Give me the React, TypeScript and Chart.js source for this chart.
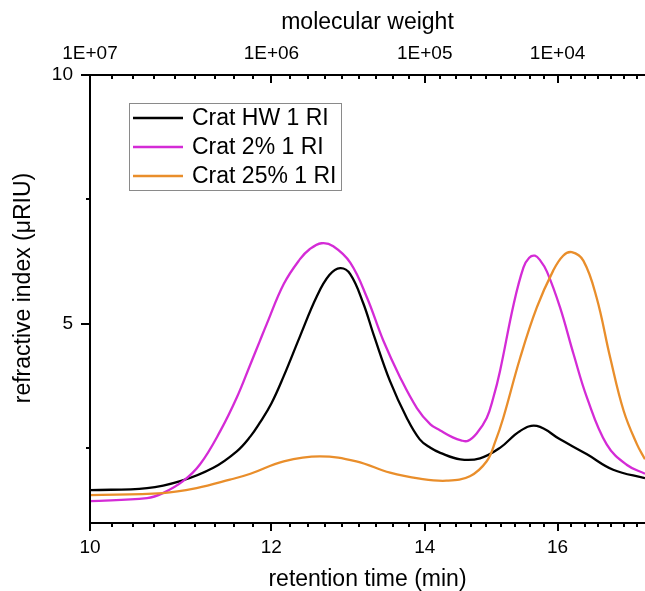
import React, { useEffect, useRef } from "react";
import { Chart, registerables } from "chart.js";

Chart.register(...registerables);

// ---------- data ----------
const seriesLabels = ["Crat HW 1 RI", "Crat 2% 1 RI", "Crat 25% 1 RI"];
const seriesColors = ["#000000", "#d42bd6", "#e98e2b"];

const hwTimes = [10.0, 10.59, 10.95, 11.32, 11.59, 11.75, 11.86, 12.0, 12.15, 12.35, 12.56, 12.72, 12.86, 12.99, 13.16, 13.3, 13.52, 13.75, 13.93, 14.08, 14.22, 14.51, 14.8, 15.1, 15.41, 15.67, 16.04, 16.48, 16.92, 17.47];
const hwValues = [1.66, 1.7, 1.84, 2.11, 2.44, 2.74, 3.01, 3.4, 3.95, 4.75, 5.55, 5.98, 6.12, 6.0, 5.42, 4.78, 3.85, 3.11, 2.68, 2.51, 2.41, 2.28, 2.3, 2.51, 2.85, 2.95, 2.68, 2.38, 2.07, 1.9];

const pct2Times = [10.0, 10.59, 10.76, 10.98, 11.17, 11.4, 11.59, 11.75, 11.86, 11.94, 12.15, 12.35, 12.47, 12.62, 12.77, 12.99, 13.21, 13.43, 13.66, 13.89, 14.08, 14.22, 14.4, 14.52, 14.62, 14.75, 14.9, 15.0, 15.1, 15.31, 15.46, 15.55, 15.64, 15.72, 15.83, 16.04, 16.26, 16.48, 16.81, 17.15, 17.47];
const pct2Values = [1.44, 1.5, 1.6, 1.84, 2.18, 2.85, 3.52, 4.19, 4.65, 4.98, 5.8, 6.3, 6.5, 6.62, 6.56, 6.23, 5.53, 4.66, 3.92, 3.31, 2.98, 2.86, 2.72, 2.66, 2.65, 2.8, 3.11, 3.52, 4.05, 5.4, 6.13, 6.33, 6.37, 6.28, 6.05, 5.33, 4.39, 3.52, 2.58, 2.17, 1.99];

const pct25Times = [10.0, 10.76, 11.13, 11.51, 11.75, 12.15, 12.6, 13.07, 13.52, 13.93, 14.31, 14.65, 14.9, 15.03, 15.15, 15.41, 15.67, 15.93, 16.09, 16.23, 16.42, 16.64, 16.87, 17.1, 17.33, 17.47];
const pct25Values = [1.56, 1.6, 1.7, 1.87, 1.99, 2.24, 2.34, 2.24, 2.01, 1.89, 1.85, 1.94, 2.24, 2.64, 3.11, 4.32, 5.33, 6.07, 6.37, 6.44, 6.27, 5.53, 4.32, 3.25, 2.58, 2.28];

// ---------- axes ----------
const xMin = 10;
const xMax = 17.47;
const yMin = 1;
const yMax = 10;
const bottomTickValues = [10, 12, 14, 16];
const bottomTickLabels = ["10", "12", "14", "16"];
const topTickLabels = ["1E+07", "1E+06", "1E+05", "1E+04"];
const xMinorStep = 2 / 9;
const yTickValues = [5, 10];
const yTickLabels = ["5", "10"];
const yMinorTicks = [2.5, 7.5];
const xTitle = "retention time (min)";
const topTitle = "molecular weight";
const yTitle = "refractive index (\u03BCRIU)";

const FONT = '"Liberation Sans", Arial, sans-serif';

const toPoints = (ts: number[], vs: number[]) => ts.map((t, i) => ({ x: t, y: vs[i] }));

const decorPlugin = {
  id: "decor",
  afterDraw(chart: any) {
    const { ctx, chartArea: a, scales } = chart;
    const xs = scales.x;
    const ys = scales.y;
    ctx.save();
    ctx.strokeStyle = "#000";
    ctx.fillStyle = "#000";
    ctx.lineWidth = 2;
    ctx.lineCap = "butt";

    // axis lines
    ctx.beginPath();
    ctx.moveTo(a.left, a.bottom + 1);
    ctx.lineTo(a.left, a.top - 1);
    ctx.moveTo(a.left - 1, a.top);
    ctx.lineTo(a.right, a.top);
    ctx.moveTo(a.left - 1, a.bottom);
    ctx.lineTo(a.right, a.bottom);
    ctx.stroke();

    // x ticks (bottom outward, top inward)
    ctx.beginPath();
    for (let j = 0; ; j++) {
      const v = xMin + j * xMinorStep;
      if (v > xMax + 1e-9) break;
      const major = j % 9 === 0;
      const px = Math.round(xs.getPixelForValue(v));
      const len = major ? 8 : 4;
      ctx.moveTo(px, a.bottom);
      ctx.lineTo(px, a.bottom + len);
      ctx.moveTo(px, a.top);
      ctx.lineTo(px, a.top + len);
    }
    // y ticks (outward)
    for (const v of yTickValues) {
      const py = Math.round(ys.getPixelForValue(v));
      ctx.moveTo(a.left, py);
      ctx.lineTo(a.left - 9, py);
    }
    for (const v of yMinorTicks) {
      const py = Math.round(ys.getPixelForValue(v));
      ctx.moveTo(a.left, py);
      ctx.lineTo(a.left - 4, py);
    }
    ctx.stroke();

    // tick labels
    ctx.font = "19px " + FONT;
    ctx.textAlign = "center";
    ctx.textBaseline = "alphabetic";
    bottomTickValues.forEach((v, i) => {
      const px = xs.getPixelForValue(v);
      ctx.fillText(bottomTickLabels[i], px, a.bottom + 30);
      ctx.fillText(topTickLabels[i], px, a.top - 16);
    });
    ctx.textAlign = "right";
    ctx.textBaseline = "middle";
    yTickValues.forEach((v, i) => {
      const py = ys.getPixelForValue(v);
      ctx.fillText(yTickLabels[i], a.left - 17, py);
    });

    // titles
    ctx.font = "23px " + FONT;
    ctx.textAlign = "center";
    ctx.textBaseline = "alphabetic";
    const cx = (a.left + a.right) / 2;
    ctx.fillText(xTitle, cx, 586);
    ctx.fillText(topTitle, cx, 29);
    ctx.save();
    ctx.translate(24, 288);
    ctx.rotate(-Math.PI / 2);
    ctx.textBaseline = "middle";
    ctx.fillText(yTitle, 0, 0);
    ctx.restore();

    // legend
    const bx = 129.5, by = 103.5, bw = 212, bh = 87;
    ctx.fillStyle = "#fff";
    ctx.fillRect(bx, by, bw, bh);
    ctx.strokeStyle = "#8a8a8a";
    ctx.lineWidth = 1;
    ctx.strokeRect(bx, by, bw, bh);
    const rows = [118, 147, 176];
    ctx.font = "23px " + FONT;
    ctx.textAlign = "left";
    ctx.textBaseline = "middle";
    seriesLabels.forEach((lab, i) => {
      ctx.strokeStyle = seriesColors[i];
      ctx.lineWidth = 2.3;
      ctx.beginPath();
      ctx.moveTo(133, rows[i]);
      ctx.lineTo(183, rows[i]);
      ctx.stroke();
      ctx.fillStyle = "#000";
      ctx.fillText(lab, 192, rows[i] + 1);
    });
    ctx.restore();
  },
};

export default function App() {
  const ref = useRef<HTMLCanvasElement>(null);
  useEffect(() => {
    const canvas = ref.current!;
    const seriesData = [
      toPoints(hwTimes, hwValues),
      toPoints(pct2Times, pct2Values),
      toPoints(pct25Times, pct25Values),
    ];
    const chart = new Chart(canvas, {
      type: "line",
      data: {
        datasets: seriesData.map((d, i) => ({
          label: seriesLabels[i],
          data: d,
          borderColor: seriesColors[i],
          backgroundColor: seriesColors[i],
          borderWidth: 2.3,
          pointRadius: 0,
          fill: false,
          tension: 0.4,
          order: 3 - i,
          xAxisID: "x",
          yAxisID: "y",
        })),
      },
      options: {
        animation: false,
        responsive: false,
        devicePixelRatio: 1,
        layout: { padding: 0 },
        plugins: { legend: { display: false }, tooltip: { enabled: false } },
        events: [],
        scales: {
          x: {
            type: "logarithmic",
            position: "bottom",
            min: xMin,
            max: xMax,
            ticks: { display: false },
            grid: { display: false },
            border: { display: false },
            afterFit(s: any) { s.height = 68; },
          },
          x2: {
            type: "logarithmic",
            position: "top",
            min: xMin,
            max: xMax,
            ticks: { display: false },
            grid: { display: false },
            border: { display: false },
            afterFit(s: any) { s.height = 75; },
          },
          y: {
            type: "linear",
            min: yMin,
            max: yMax,
            ticks: { display: false },
            grid: { display: false },
            border: { display: false },
            afterFit(s: any) { s.width = 90; },
          },
        },
      } as any,
      plugins: [decorPlugin],
    });
    return () => chart.destroy();
  }, []);
  return (
    <div style={{ position: "fixed", left: 0, top: 0, width: 645, height: 591, background: "#fff" }}>
      <canvas ref={ref} width={645} height={591} style={{ display: "block" }} />
    </div>
  );
}
